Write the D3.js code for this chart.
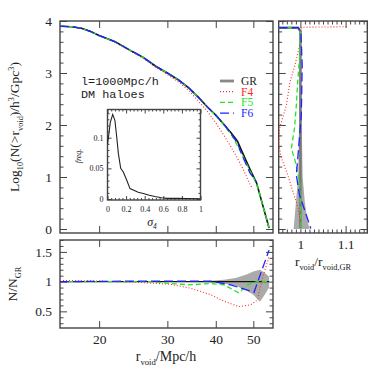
<!DOCTYPE html>
<html>
<head>
<meta charset="utf-8">
<script src="https://cdn.jsdelivr.net/npm/d3@7"></script>
<style>
body { margin: 0; background: #fff; }
text { font-family: "Liberation Serif", "DejaVu Serif", serif; fill: #222; }
</style>
</head>
<body>
<div id="chart"></div>
<script>
// ---- main panel: log10 N(>r_void) ----
var rMain = [15.85, 17, 18, 19, 20, 22, 24, 26, 28, 30, 32, 34, 36, 38, 40, 42, 44, 45.5, 47, 49, 51, 53, 54.9];
var nGR   = [3.90, 3.89, 3.86, 3.80, 3.72, 3.60, 3.44, 3.30, 3.13, 3.00, 2.87, 2.72, 2.54, 2.35, 2.19, 2.01, 1.83, 1.69, 1.45, 1.15, 0.88, 0.43, 0.02];
var nF5   = [3.90, 3.89, 3.86, 3.80, 3.72, 3.60, 3.44, 3.30, 3.13, 3.00, 2.87, 2.72, 2.54, 2.35, 2.18, 2.00, 1.80, 1.60, 1.40, 1.12, 0.87, 0.43, 0.02];
var rF4   = [15.85, 17, 18, 19, 20, 22, 24, 26, 28, 30, 32, 34, 36, 38, 40, 42, 44, 45.5, 47, 49, 49.7];
var nF4   = [3.90, 3.89, 3.86, 3.80, 3.72, 3.60, 3.43, 3.28, 3.11, 2.97, 2.83, 2.67, 2.47, 2.27, 2.04, 1.80, 1.55, 1.36, 1.16, 0.86, 0.78];
var rF6   = [15.85, 17, 18, 19, 20, 22, 24, 26, 28, 30, 32, 34, 36, 38, 40, 42, 44, 45.5, 47, 49, 51];
var nF6   = [3.90, 3.89, 3.86, 3.80, 3.72, 3.60, 3.44, 3.30, 3.13, 3.00, 2.87, 2.72, 2.54, 2.35, 2.19, 2.01, 1.81, 1.65, 1.38, 1.08, 0.90];

// ---- bottom panel: N/N_GR ----
var rRatioGR = [15.85, 54.9];
var ratioGR  = [1, 1];
var rBand    = [34, 38, 42, 45, 48, 50, 52, 53.5, 54.9];
var bandHi   = [1.005, 1.01, 1.03, 1.06, 1.12, 1.17, 1.2, 1.15, 1.08];
var bandLo   = [0.995, 0.99, 0.97, 0.93, 0.85, 0.78, 0.66, 0.78, 0.9];
var rRatioF4 = [15.85, 20, 25, 28, 30.5, 34.4, 38.8, 42, 45.9, 49.2, 51.2, 52.8, 54.9];
var ratioF4  = [1.02, 1.01, 0.99, 0.97, 0.955, 0.89, 0.78, 0.67, 0.58, 0.61, 0.69, 1.06, 1.42];
var rRatioF5 = [15.85, 27.1, 30.5, 34.4, 38.8, 42, 45.9, 48.3, 51.2, 54.9];
var ratioF5  = [1.0, 1.0, 0.97, 0.945, 0.97, 0.945, 0.81, 0.945, 1.0, 1.0];
var rRatioF6 = [15.85, 27, 38.8, 43.7, 50.2, 54.9];
var ratioF6  = [1.0, 1.01, 1.01, 0.945, 0.82, 1.53];

// ---- right panel: r_void / r_void,GR vs log10 N ----
var vGRr  = [3.87, 3.87, 3.80, 0.02];
var uGRr  = [0.952, 0.995, 1.0, 1.0];
var vBandR = [3.85, 2, 1, 0.5, 0.2, 0.0];
var uBandLo = [0.998, 0.997, 0.995, 0.99, 0.987, 0.985];
var uBandHi = [1.002, 1.003, 1.005, 1.01, 1.015, 1.02];
var vF4r  = [3.89, 3.88, 3.6, 3.15, 2.83, 2.38, 1.94, 1.62, 1.36, 1.04, 0.40, 0.01];
var uF4r  = [1.102, 1.003, 1.0, 0.988, 0.977, 0.969, 0.954, 0.952, 0.958, 0.972, 0.995, 1.002];
var vF5r  = [3.87, 3.87, 3.80, 3.28, 2.83, 2.38, 1.94, 1.55, 1.29, 0.91, 0.5, 0.02];
var uF5r  = [0.952, 0.995, 1.0, 0.998, 0.994, 0.991, 0.987, 0.980, 0.989, 0.998, 1.0, 1.001];
var vF6r  = [3.87, 3.87, 3.80, 3.15, 2.19, 1.55, 1.04, 0.65, 0.27, 0.01];
var uF6r  = [0.952, 0.995, 1.001, 1.004, 1.002, 0.996, 0.991, 0.998, 1.013, 1.023];

// ---- inset: sigma_4 distribution ----
var sigma = [0, 0.01, 0.03, 0.056, 0.08, 0.1, 0.117, 0.142, 0.17, 0.206, 0.242, 0.277, 0.33, 0.385, 0.45, 0.51, 0.58, 0.64, 0.75, 0.85, 1.0];
var freq  = [0.09, 0.10, 0.125, 0.138, 0.128, 0.10, 0.074, 0.05, 0.044, 0.031, 0.017, 0.0146, 0.011, 0.009, 0.006, 0.004, 0.002, 0.001, 0.001, 0.0008, 0.0005];

var legendNames = ["GR", "F4", "F5", "F6"];
var colors = {GR: "#111", F4: "#ff2a2a", F5: "#22e622", F6: "#2222ff"};
var dashes = {GR: null, F4: "1,2", F5: "5,3", F6: "9,4"};

var width = 388, height = 388;
var svg = d3.select("#chart").append("svg")
    .attr("width", width)
    .attr("height", height);

var fmt = d3.format("~g");

function range(a, b, step) {
    var out = [];
    for (var i = 0; a + i * step <= b + 1e-9; i++) out.push(+(a + i * step).toFixed(4));
    return out;
}
function minorOf(all, majors) {
    return all.filter(function(v) {
        return !majors.some(function(m) { return Math.abs(m - v) < 1e-6; });
    });
}

// inward ticks on one side of a frame
function addAxis(axisFn, scale, vals, size, tx, ty, labels, fs, pad) {
    var a = axisFn(scale).tickValues(vals).tickSize(-size).tickPadding(pad || 6);
    a.tickFormat(labels ? fmt : "");
    var g = svg.append("g")
        .attr("transform", "translate(" + tx + "," + ty + ")")
        .call(a);
    g.select(".domain").remove();
    g.attr("font-family", null).attr("font-size", null);
    g.selectAll("line").attr("stroke", "#444").attr("stroke-width", 1);
    g.selectAll("text").style("font-size", (fs || 13.5) + "px").attr("fill", "#222");
    return g;
}

function frame(x, y, o) {
    var x0 = x.range()[0], x1 = x.range()[1], yb = y.range()[0], yt = y.range()[1];
    var maj = o.maj || 7, mn = o.mn || 3.5;
    if (o.fill) {
        svg.append("rect").attr("x", x0).attr("y", yt)
            .attr("width", x1 - x0).attr("height", yb - yt).attr("fill", o.fill);
    }
    addAxis(d3.axisBottom, x, o.xMajor, maj, 0, yb, o.xLabels, o.fs, o.xPad);
    addAxis(d3.axisTop, x, o.xMajor, maj, 0, yt, false);
    if (o.xMinor) {
        addAxis(d3.axisBottom, x, o.xMinor, mn, 0, yb, false);
        addAxis(d3.axisTop, x, o.xMinor, mn, 0, yt, false);
    }
    addAxis(d3.axisLeft, y, o.yMajor, maj, x0, 0, o.yLabels, o.fs, o.yPad);
    addAxis(d3.axisRight, y, o.yMajor, maj, x1, 0, false);
    if (o.yMinor) {
        addAxis(d3.axisLeft, y, o.yMinor, mn, x0, 0, false);
        addAxis(d3.axisRight, y, o.yMinor, mn, x1, 0, false);
    }
    svg.append("rect")
        .attr("x", x0).attr("y", yt)
        .attr("width", x1 - x0).attr("height", yb - yt)
        .attr("fill", "none")
        .attr("stroke", "#444")
        .attr("stroke-width", 1.4);
}

function rich(t, parts, fs) {
    var shift = 0;
    parts.forEach(function(p) {
        var target = p[1] === "sub" ? 0.28 * fs : (p[1] === "sup" ? -0.38 * fs : 0);
        t.append("tspan")
            .attr("dy", target - shift)
            .style("font-size", (p[1] ? fs * 0.62 : fs) + "px")
            .text(p[0]);
        shift = target;
    });
}

function drawSeries(line, data, name, width) {
    svg.append("path")
        .datum(data)
        .attr("fill", "none")
        .attr("stroke", colors[name])
        .attr("stroke-width", width || 1.2)
        .attr("stroke-dasharray", dashes[name])
        .attr("d", line);
}

// ---- scales ----
var x = d3.scaleLog().domain([15.85, 56.2]).range([60, 273]);
var yMain = d3.scaleLinear().domain([-0.077, 4.0]).range([233, 21]);
var yRatio = d3.scaleLinear().domain([0.22, 1.7]).range([328, 240]);
var xRight = d3.scaleLinear().domain([0.952, 1.148]).range([278.7, 367.3]);
var xIn = d3.scaleLinear().domain([0, 1]).range([107.5, 200.5]);
var yIn = d3.scaleLinear().domain([-0.0016, 0.146]).range([200, 109.5]);

var xMaj = [20, 30, 40, 50];
var yMainMaj = [0, 1, 2, 3, 4];
var yMainMin = minorOf(range(0, 4, 0.2), yMainMaj);

// ---- main panel ----
frame(x, yMain, {xMajor: xMaj, yMajor: yMainMaj, yMinor: yMainMin, yLabels: true, yPad: 8});

var lineMain = d3.line()
    .x(function(d) { return x(d[0]); })
    .y(function(d) { return yMain(d[1]); });

drawSeries(lineMain, d3.zip(rF4, nF4), "F4", 1.1);
drawSeries(lineMain, d3.zip(rMain, nGR), "GR", 1.6);
drawSeries(lineMain, d3.zip(rMain, nF5), "F5", 1.3);
drawSeries(lineMain, d3.zip(rF6, nF6), "F6", 1.3);

// legend
legendNames.forEach(function(name, i) {
    var ly = 81 + i * 10.7;
    svg.append("line")
        .attr("x1", 220).attr("x2", 234)
        .attr("y1", ly).attr("y2", ly)
        .attr("stroke", name === "GR" ? "#888" : colors[name])
        .attr("stroke-width", name === "GR" ? 2.8 : 1.3)
        .attr("stroke-dasharray", dashes[name]);
    svg.append("text")
        .attr("x", 241).attr("y", ly + 4)
        .style("font-size", "11.5px")
        .style("fill", name === "GR" ? "#222" : colors[name])
        .text(name);
});

// annotation
svg.append("text").attr("x", 81).attr("y", 85)
    .style("font-family", "'Liberation Mono', 'DejaVu Sans Mono', monospace")
    .style("font-size", "11.8px")
    .text("l=1000Mpc/h");
svg.append("text").attr("x", 81).attr("y", 97.5)
    .style("font-family", "'Liberation Mono', 'DejaVu Sans Mono', monospace")
    .style("font-size", "11.8px")
    .text("DM haloes");

// y label main
var ylab = svg.append("text")
    .attr("transform", "translate(19,127) rotate(-90)")
    .attr("text-anchor", "middle");
rich(ylab, [["Log"], ["10", "sub"], ["(N(>r"], ["void", "sub"], [")/h"], ["3", "sup"], ["/Gpc"], ["3", "sup"], [")"]], 13.5);

// ---- inset ----
frame(xIn, yIn, {
    xMajor: range(0, 1, 0.2), xMinor: minorOf(range(0, 1, 0.04), range(0, 1, 0.2)),
    yMajor: [0, 0.05, 0.1], yMinor: minorOf(range(0, 0.14, 0.01), [0, 0.05, 0.1]),
    xLabels: true, yLabels: true, fs: 8, maj: 4, mn: 2, xPad: 6, yPad: 4, fill: "#fff"
});
var lineIn = d3.line()
    .x(function(d) { return xIn(d[0]); })
    .y(function(d) { return yIn(d[1]); });
svg.append("path")
    .datum(d3.zip(sigma, freq))
    .attr("fill", "none")
    .attr("stroke", "#222")
    .attr("stroke-width", 1.1)
    .attr("d", lineIn);
svg.append("text")
    .attr("transform", "translate(81,156) rotate(-90)")
    .attr("text-anchor", "middle")
    .style("font-size", "8px")
    .style("font-style", "italic")
    .text("freq.");
var sig = svg.append("text")
    .attr("x", 152).attr("y", 226)
    .attr("text-anchor", "middle")
    .style("font-style", "italic");
rich(sig, [["\u03c3"], ["4", "sub"]], 12);

// ---- bottom ratio panel ----
var yRatioMaj = [0.5, 1, 1.5];
frame(x, yRatio, {
    xMajor: xMaj, yMajor: yRatioMaj, yMinor: minorOf(range(0.3, 1.7, 0.1), yRatioMaj),
    xLabels: true, yLabels: true, xPad: 6, yPad: 8
});

var band = d3.area()
    .x(function(d) { return x(d[0]); })
    .y0(function(d) { return yRatio(d[1]); })
    .y1(function(d) { return yRatio(d[2]); });
svg.append("path")
    .datum(d3.zip(rBand, bandLo, bandHi))
    .attr("fill", "#aaa")
    .attr("d", band);

var lineRatio = d3.line()
    .x(function(d) { return x(d[0]); })
    .y(function(d) { return yRatio(d[1]); });
drawSeries(lineRatio, d3.zip(rRatioGR, ratioGR), "GR", 1.4);
drawSeries(lineRatio, d3.zip(rRatioF4, ratioF4), "F4", 1.1);
drawSeries(lineRatio, d3.zip(rRatioF5, ratioF5), "F5", 1.3);
drawSeries(lineRatio, d3.zip(rRatioF6, ratioF6), "F6", 1.3);

var ylab2 = svg.append("text")
    .attr("transform", "translate(17,284) rotate(-90)")
    .attr("text-anchor", "middle");
rich(ylab2, [["N/N"], ["GR", "sub"]], 13.5);

var xlab = svg.append("text")
    .attr("x", 166).attr("y", 361)
    .attr("text-anchor", "middle");
rich(xlab, [["r"], ["void", "sub"], ["/Mpc/h"]], 14);

// ---- right panel ----
var xRMaj = [1, 1.1];
frame(xRight, yMain, {
    xMajor: xRMaj, xMinor: minorOf(range(0.96, 1.14, 0.01), xRMaj),
    yMajor: yMainMaj, yMinor: yMainMin, xLabels: true, xPad: 6
});

var bandR = d3.area()
    .y(function(d) { return yMain(d[0]); })
    .x0(function(d) { return xRight(d[1]); })
    .x1(function(d) { return xRight(d[2]); });
svg.append("path")
    .datum(d3.zip(vBandR, uBandLo, uBandHi))
    .attr("fill", "#aaa")
    .attr("d", bandR);

var lineRight = d3.line()
    .x(function(d) { return xRight(d[0]); })
    .y(function(d) { return yMain(d[1]); });
svg.append("path")
    .datum(d3.zip(uGRr, vGRr))
    .attr("fill", "none")
    .attr("stroke", "#777")
    .attr("stroke-width", 2.4)
    .attr("d", lineRight);
drawSeries(lineRight, d3.zip(uF4r, vF4r), "F4", 1.1);
drawSeries(lineRight, d3.zip(uF5r, vF5r), "F5", 1.3);
drawSeries(lineRight, d3.zip(uF6r, vF6r), "F6", 1.3);

var xlab3 = svg.append("text")
    .attr("x", 323).attr("y", 266)
    .attr("text-anchor", "middle");
rich(xlab3, [["r"], ["void", "sub"], ["/r"], ["void,GR", "sub"]], 13.5);
</script>
</body>
</html>
